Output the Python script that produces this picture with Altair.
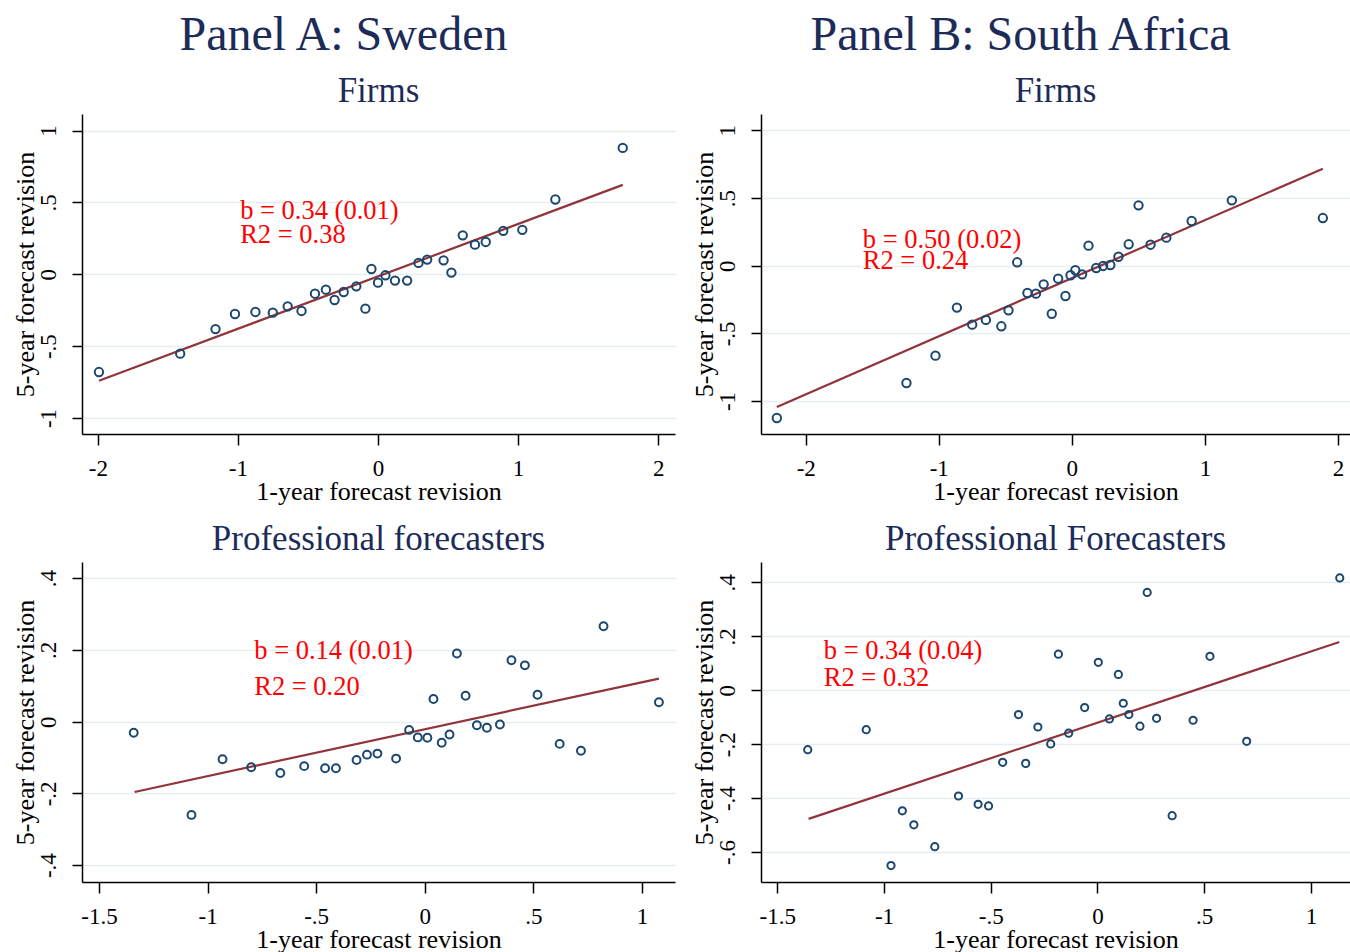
import altair as alt
import pandas as pd

FONT = "Liberation Serif"
NAVY = "#1a476f"
MAROON = "#90353b"
TITLE_C = "#1c2b57"

# ---- Panel A: Sweden, Firms ----
swf_x = [-1.992, -1.412, -1.160, -1.021, -0.875, -0.751, -0.645, -0.546, -0.450, -0.372,
         -0.310, -0.245, -0.155, -0.090, -0.047, 0.000, 0.053, 0.121, 0.208, 0.289,
         0.351, 0.468, 0.524, 0.605, 0.692, 0.769, 0.894, 1.030, 1.266, 1.747]
swf_y = [-0.680, -0.552, -0.381, -0.276, -0.262, -0.267, -0.223, -0.255, -0.135, -0.107,
         -0.179, -0.123, -0.084, -0.239, 0.037, -0.058, -0.007, -0.044, -0.044, 0.079,
         0.102, 0.097, 0.012, 0.271, 0.206, 0.225, 0.302, 0.309, 0.520, 0.879]
swf_fit_x = [-1.992, 1.747]
swf_fit_y = [-0.740, 0.622]

# ---- Panel B: South Africa, Firms ----
saf_x = [-2.217, -1.243, -1.025, -0.864, -0.749, -0.646, -0.530, -0.476, -0.411, -0.334,
         -0.270, -0.212, -0.151, -0.103, -0.048, -0.010, 0.026, 0.077, 0.125, 0.183,
         0.235, 0.289, 0.350, 0.427, 0.501, 0.591, 0.710, 0.900, 1.202, 1.886]
saf_y = [-1.126, -0.867, -0.665, -0.310, -0.436, -0.401, -0.448, -0.330, 0.025, -0.202,
         -0.207, -0.138, -0.355, -0.096, -0.224, -0.071, -0.034, -0.064, 0.148, -0.017,
         -0.002, 0.005, 0.066, 0.158, 0.446, 0.155, 0.207, 0.330, 0.483, 0.352]
saf_fit_x = [-2.217, 1.886]
saf_fit_y = [-1.044, 0.717]

# ---- Panel A: Sweden, Professional forecasters ----
swp_x = [-1.340, -1.074, -0.931, -0.799, -0.665, -0.555, -0.459, -0.409, -0.314, -0.266,
         -0.218, -0.132, -0.072, -0.032, 0.012, 0.040, 0.078, 0.114, 0.148, 0.188,
         0.240, 0.286, 0.346, 0.399, 0.461, 0.519, 0.621, 0.719, 0.823, 1.078]
swp_y = [-0.031, -0.260, -0.105, -0.127, -0.143, -0.124, -0.130, -0.130, -0.107, -0.092,
         -0.089, -0.103, -0.023, -0.044, -0.045, 0.063, -0.059, -0.036, 0.190, 0.072,
         -0.010, -0.017, -0.008, 0.171, 0.157, 0.075, -0.062, -0.081, 0.266, 0.054]
swp_fit_x = [-1.336, 1.078]
swp_fit_y = [-0.196, 0.120]

# ---- Panel B: South Africa, Professional Forecasters ----
sap_x = [-1.357, -1.083, -0.967, -0.914, -0.860, -0.762, -0.651, -0.559, -0.510, -0.444,
         -0.370, -0.336, -0.279, -0.219, -0.183, -0.135, -0.060, 0.004, 0.056, 0.098,
         0.121, 0.147, 0.199, 0.233, 0.277, 0.350, 0.448, 0.527, 0.699, 1.135]
sap_y = [-0.220, -0.146, -0.650, -0.447, -0.499, -0.580, -0.392, -0.423, -0.429, -0.267,
         -0.090, -0.271, -0.136, -0.199, 0.134, -0.159, -0.064, 0.104, -0.106, 0.059,
         -0.048, -0.090, -0.133, 0.363, -0.104, -0.465, -0.111, 0.126, -0.189, 0.417]
sap_fit_x = [-1.353, 1.133]
sap_fit_y = [-0.477, 0.179]

LBL = "(datum.value < 0 ? '-' : '') + replace(format(abs(datum.value), '~g'), '0.', '.')"


def panel(xs, ys, fx, fy, xdom, ydom, xticks, yticks, ann, title, w, h, msize):
    pts_df = pd.DataFrame({"x": xs, "y": ys})
    fit_df = pd.DataFrame({"x": fx, "y": fy})
    ann_df = pd.DataFrame({"x": [ann[0], ann[0]], "y": [ann[1], ann[2]], "t": [ann[3], ann[4]]})
    xsc = alt.Scale(domain=xdom, nice=False, zero=False)
    ysc = alt.Scale(domain=ydom, nice=False, zero=False)
    xax = alt.Axis(values=xticks, labelExpr=LBL, title="1-year forecast revision", grid=False,
                   tickSize=11, labelPadding=30, labelBaseline="alphabetic",
                   titleBaseline="alphabetic", titleY=65, labelFlush=False, labelOverlap=False)
    yax = alt.Axis(values=yticks, labelExpr=LBL, title="5-year forecast revision", grid=True,
                   tickSize=10, labelAngle=270, labelAlign="center", labelBaseline="alphabetic",
                   labelPadding=17, titleAngle=270, titleBaseline="alphabetic", titleX=-49,
                   titleAlign="center", labelFlush=False, labelOverlap=False)
    line = alt.Chart(fit_df).mark_line(color=MAROON, strokeWidth=2.2).encode(
        x=alt.X("x:Q", scale=xsc, axis=xax), y=alt.Y("y:Q", scale=ysc, axis=yax))
    pts = alt.Chart(pts_df).mark_point(shape="circle", filled=False, color=NAVY,
                                       strokeWidth=2, size=msize, opacity=1).encode(
        x=alt.X("x:Q", scale=xsc), y=alt.Y("y:Q", scale=ysc))
    txt = alt.Chart(ann_df).mark_text(align="left", baseline="alphabetic", color="#ff0000",
                                      font=FONT, fontSize=26.5).encode(
        x=alt.X("x:Q", scale=xsc), y=alt.Y("y:Q", scale=ysc), text="t:N")
    return alt.layer(line, pts, txt).properties(
        width=w, height=h,
        title=alt.TitleParams(title, fontSize=35, frame="group", anchor="middle",
                              baseline="alphabetic", offset=-23, color=TITLE_C, font=FONT,
                              fontWeight="normal"))


W_L, W_R, H = 593, 589, 320

tl = panel(swf_x, swf_y, swf_fit_x, swf_fit_y, [-2.113, 2.12], [-1.111, 1.115],
           [-2, -1, 0, 1, 2], [-1, -0.5, 0, 0.5, 1],
           (-0.984, 0.385, 0.218, "b = 0.34 (0.01)", "R2 = 0.38"), "Firms", W_L, H, 70)
tr = panel(saf_x, saf_y, saf_fit_x, saf_fit_y, [-2.336, 2.09], [-1.244, 1.121],
           [-2, -1, 0, 1, 2], [-1, -0.5, 0, 0.5, 1],
           (-1.571, 0.129, -0.022, "b = 0.50 (0.02)", "R2 = 0.24"), "Firms", W_R, H, 70)
bl = panel(swp_x, swp_y, swp_fit_x, swp_fit_y, [-1.578, 1.152], [-0.447, 0.445],
           [-1.5, -1, -0.5, 0, 0.5, 1], [-0.4, -0.2, 0, 0.2, 0.4],
           (-0.785, 0.174, 0.073, "b = 0.14 (0.01)", "R2 = 0.20"), "Professional forecasters",
           W_L, H, 62)
br = panel(sap_x, sap_y, sap_fit_x, sap_fit_y, [-1.576, 1.183], [-0.711, 0.476],
           [-1.5, -1, -0.5, 0, 0.5, 1], [-0.6, -0.4, -0.2, 0, 0.2, 0.4],
           (-1.282, 0.115, 0.015, "b = 0.34 (0.04)", "R2 = 0.32"), "Professional Forecasters",
           W_R, H, 52)


def col_title(t):
    return alt.TitleParams(t, fontSize=48, anchor="middle", baseline="alphabetic", offset=-24,
                           color=TITLE_C, font=FONT, fontWeight="normal")


colA = alt.vconcat(tl, bl, spacing=128, bounds="flush", title=col_title("Panel A: Sweden"))
colB = alt.vconcat(tr, br, spacing=128, bounds="flush", title=col_title("Panel B: South Africa"))

chart = alt.hconcat(colA, colB, spacing=16).properties(
    padding={"left": 12, "top": 12, "right": 0, "bottom": 0},
    background="white",
).configure_view(stroke=None).configure_axis(
    domainColor="black", domainWidth=1.5, tickColor="black", tickWidth=1.5,
    labelFont=FONT, labelFontSize=23, labelColor="black",
    titleFont=FONT, titleFontSize=26, titleFontWeight="normal", titleColor="black",
    gridColor="#e6eef1", gridWidth=1.5,
).configure_title(font=FONT, fontWeight="normal", color=TITLE_C)

chart.save("out.html", embed_options={"renderer": "svg", "actions": False})
